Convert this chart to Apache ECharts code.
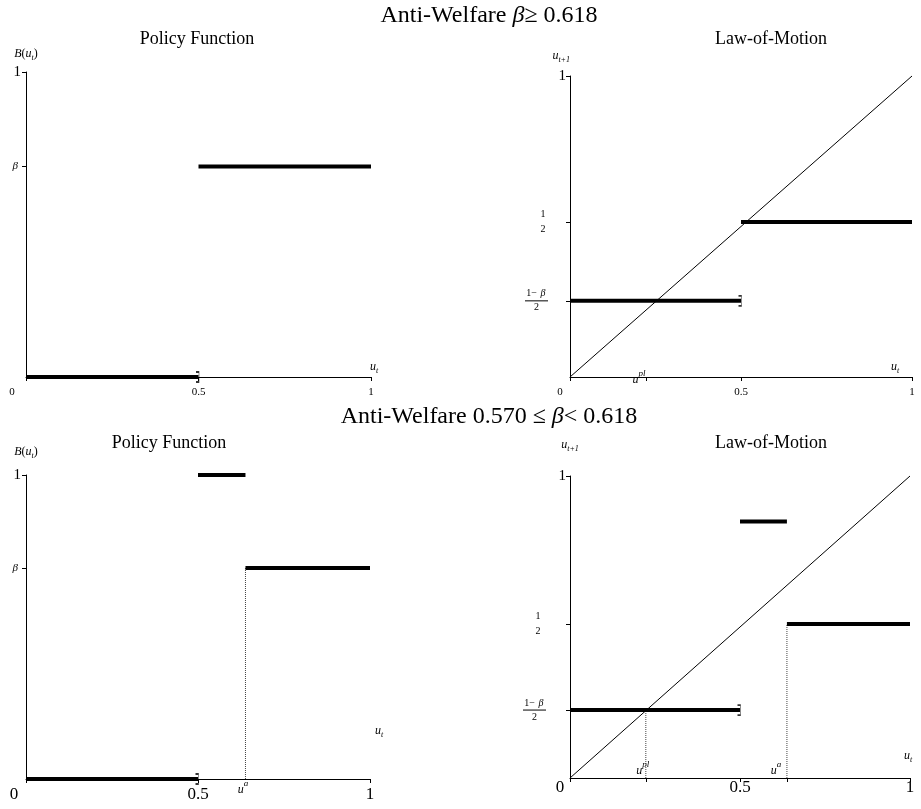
<!DOCTYPE html>
<html>
<head>
<meta charset="utf-8">
<script src="https://cdn.jsdelivr.net/npm/echarts@6/dist/echarts.min.js"></script>
<style>
html,body{margin:0;padding:0;background:#ffffff;}
#chart{width:921px;height:809px;}
</style>
</head>
<body>
<div id="chart"></div>
<script>
// ---------------- data ----------------
const rowTitles = ['Anti-Welfare {bi|β}≥ 0.618', 'Anti-Welfare 0.570 ≤ {bi|β}< 0.618'];
const panelTitles = ['Policy Function', 'Law-of-Motion', 'Policy Function', 'Law-of-Motion'];

const xTickValues = [0, 0.5, 1];
const xTickLabelsTL = ['{z14|0}', '0.5', '1'];
const xTickLabelsTR = ['{z10|0}', '0.5', '1'];
const xTickLabelsBL = ['{z12|0}', '0.5', '1'];
const xTickLabelsBR = ['{z10|0}', '0.5', '1'];

// Top-left: policy function (β >= 0.618)
const tlSegLow  = [[0, 0], [0.5, 0]];
const tlSegHigh = [[0.5, 0.69], [1, 0.69]];
const tlBracket = [[0.5, 0]];
const tlYTicks  = [0.69, 1];
const tlYLabels = ['{b|β}', '{one|1}'];
const tlXTicks  = [0, 0.5, 1];

// Top-right: law of motion (β >= 0.618)
const trDiagonal = [[0, 0], [1, 1]];
const trSegLow   = [[0, 0.253], [0.5, 0.253]];
const trSegHigh  = [[0.5, 0.515], [1, 0.515]];
const trBracket  = [[0.5, 0.253]];
const trYTicks   = [0.253, 0.515, 1];
const trYLabels  = ['{fn|1−}{fb|β}{s18|}\n{bar|}{s18|}\n{fd|2}{s18|}', '{hn|1}{s18|}\n{hd|2}{s18|}', '{one|1}'];
const trXTicks   = [0, 0.222, 0.5, 1];
const trXMarks   = [0.222];
const trXMarkLabels = ['{u|u}{sup14|pl}'];

// Bottom-left: policy function (0.570 <= β < 0.618)
const blSegLow   = [[0, 0], [0.5, 0]];
const blSegTop   = [[0.5, 1], [0.638, 1]];
const blSegMid   = [[0.638, 0.694], [1, 0.694]];
const blGuide    = [[0.638, 0], [0.638, 0.694]];
const blBracket  = [[0.5, 0]];
const blYTicks   = [0.694, 1];
const blYLabels  = ['{b|β}', '{one|1}'];
const blXTicks   = [0, 0.5, 1];
const blXMarks   = [0.638];
const blXMarkLabels = ['{u|u}{sup5|a}'];

// Bottom-right: law of motion (0.570 <= β < 0.618)
const brDiagonal = [[0, 0], [1, 1]];
const brSegLow   = [[0, 0.225], [0.5, 0.225]];
const brSegSpike = [[0.5, 0.849], [0.638, 0.849]];
const brSegHigh  = [[0.638, 0.51], [1, 0.51]];
const brGuidePl  = [[0.223, 0], [0.223, 0.225]];
const brGuideA   = [[0.638, 0], [0.638, 0.51]];
const brBracket  = [[0.5, 0.225]];
const brYTicks   = [0.225, 0.51, 1];
const brYLabels  = ['{fn|1−}{fb|β}{s20|}\n{bar|}{s20|}\n{fd|2}{s20|}', '{hn|1}{s23|}\n{hd|2}{s23|}', '{one|1}'];
const brXTicks   = [0, 0.223, 0.5, 0.638, 1];
const brXMarks   = [0.223, 0.638];
const brXMarkLabels = ['{u|u}{sup6|pl}', '{u|u}{sup22|a}'];

// ---------------- styling ----------------
const F = 'Liberation Serif';
const RICH = {
  one:  {fontFamily: F, fontSize: 15},
  b:    {fontFamily: F, fontStyle: 'italic', fontSize: 11, padding: [0, 3, 0, 0]},
  fn:   {fontFamily: F, fontSize: 10, lineHeight: 10, width: 13, align: 'right'},
  fb:   {fontFamily: F, fontSize: 10, fontStyle: 'italic', lineHeight: 10, width: 10, align: 'left'},
  bar:  {width: 23, height: 1, lineHeight: 4, fontSize: 1, backgroundColor: '#000'},
  fd:   {fontFamily: F, fontSize: 10, lineHeight: 10, width: 23, align: 'center'},
  hn:   {fontFamily: F, fontSize: 10, lineHeight: 15, width: 10, align: 'center'},
  hd:   {fontFamily: F, fontSize: 10, lineHeight: 15, width: 10, align: 'center'},
  s18:  {width: 18, fontSize: 1, lineHeight: 1},
  s20:  {width: 20, fontSize: 1, lineHeight: 1},
  s23:  {width: 23, fontSize: 1, lineHeight: 1},
  z14:  {padding: [0, 28, 0, 0]}, z12: {padding: [0, 24, 0, 0]}, z10: {padding: [0, 20, 0, 0]},
  u:    {fontFamily: F, fontStyle: 'italic', fontSize: 12, lineHeight: 17, verticalAlign: 'bottom'},
  sup5: {fontFamily: F, fontStyle: 'italic', fontSize: 9, verticalAlign: 'top', padding: [0, 5, 0, 0]},
  sup6: {fontFamily: F, fontStyle: 'italic', fontSize: 9, verticalAlign: 'top', padding: [0, 6, 0, 0]},
  sup14:{fontFamily: F, fontStyle: 'italic', fontSize: 9, verticalAlign: 'top', padding: [0, 14, 0, 0]},
  sup22:{fontFamily: F, fontStyle: 'italic', fontSize: 9, verticalAlign: 'top', padding: [0, 22, 0, 0]},
  nu:   {fontFamily: F, fontStyle: 'italic', fontSize: 12, lineHeight: 14, verticalAlign: 'top'},
  np:   {fontFamily: F, fontSize: 12, lineHeight: 14, verticalAlign: 'top'},
  nsub: {fontFamily: F, fontStyle: 'italic', fontSize: 8, verticalAlign: 'bottom'}
};
const NAME_UT = '{nu|u}{nsub|t}';
const NAME_B = '{nu|B}{np|(}{nu|u}{nsub|t}{np|)}';
const NAME_UT1 = '{nu|u}{nsub|t+1}';

function pick(vals, labels, v) {
  let best = 0, d = Infinity;
  vals.forEach((x, i) => { const dd = Math.abs(x - v); if (dd < d) { d = dd; best = i; } });
  return labels[best];
}

function mainX(gi, ticks, labels, fs, margin, nameGap, namePadBottom) {
  return {
    type: 'value', gridIndex: gi, min: 0, max: 1, position: 'bottom',
    axisLine: {show: true, onZero: false, lineStyle: {color: '#000', width: 1}},
    axisTick: {show: true, customValues: ticks, length: 4, lineStyle: {color: '#000', width: 1}},
    axisLabel: {show: true, customValues: xTickValues, formatter: v => pick(xTickValues, labels, v),
      fontFamily: F, fontSize: fs, color: '#000', margin: margin, rich: RICH,
      showMinLabel: true, showMaxLabel: true},
    splitLine: {show: false},
    name: NAME_UT, nameLocation: 'end', nameGap: nameGap, nameMoveOverlap: false,
    nameTextStyle: {align: 'center', verticalAlign: 'bottom', padding: [0, 0, namePadBottom, 0],
      rich: RICH, fontFamily: F, color: '#000'}
  };
}
function labelX(gi, vals, labels, inside, margin) {
  return {
    type: 'value', gridIndex: gi, min: 0, max: 1, position: 'bottom',
    axisLine: {show: false, onZero: false}, axisTick: {show: false}, splitLine: {show: false},
    axisLabel: {show: true, customValues: vals, formatter: v => pick(vals, labels, v),
      inside: inside, margin: margin, fontFamily: F, color: '#000', rich: RICH,
      showMinLabel: true, showMaxLabel: true}
  };
}
function mainY(gi, vals, labels, margin, name, nameGap, nameAlign) {
  return {
    type: 'value', gridIndex: gi, min: 0, max: 1,
    axisLine: {show: true, onZero: false, lineStyle: {color: '#000', width: 1}},
    axisTick: {show: true, customValues: vals, length: 4, lineStyle: {color: '#000', width: 1}},
    axisLabel: {show: true, customValues: vals, formatter: v => pick(vals, labels, v),
      margin: margin, fontFamily: F, fontSize: 15, color: '#000', rich: RICH,
      showMinLabel: true, showMaxLabel: true},
    splitLine: {show: false},
    name: name, nameLocation: 'end', nameGap: nameGap, nameMoveOverlap: false,
    nameTextStyle: {align: nameAlign, verticalAlign: 'bottom', rich: RICH, fontFamily: F, color: '#000'}
  };
}
function seg(data, xi, yi, width, type, color) {
  return {type: 'line', data: data, xAxisIndex: xi, yAxisIndex: yi, symbol: 'none',
    silent: true, animation: false, clip: false,
    lineStyle: {color: color || '#000', width: width, type: type || 'solid', cap: 'butt'},
    z: width > 2 ? 4 : 3};
}
function bracket(data, xi, yi) {
  return {type: 'scatter', data: data, xAxisIndex: xi, yAxisIndex: yi,
    symbol: 'path://M0,0L3,0L3,10L0,10', symbolSize: [3, 10], symbolOffset: [-1, 0],
    itemStyle: {color: 'rgba(0,0,0,0)', borderColor: '#000', borderWidth: 1},
    silent: true, animation: false, z: 5};
}
function title(text, x, y, size) {
  return {type: 'text', x: x, y: y, silent: true,
    style: {text: text, fontFamily: F, fontSize: size, fill: '#000', align: 'center', verticalAlign: 'middle',
      rich: {bi: {fontFamily: F, fontStyle: 'italic', fontSize: size, fill: '#000'}}}};
}

const DOT = [1, 1];
const option = {
  backgroundColor: '#ffffff',
  animation: false,
  grid: [
    {left: 26,  top: 72,  width: 345, height: 305, containLabel: false, outerBoundsMode: 'none'},
    {left: 570, top: 76,  width: 342, height: 301, containLabel: false, outerBoundsMode: 'none'},
    {left: 26,  top: 475, width: 344, height: 304, containLabel: false, outerBoundsMode: 'none'},
    {left: 570, top: 476, width: 340, height: 302, containLabel: false, outerBoundsMode: 'none'}
  ],
  xAxis: [
    mainX(0, tlXTicks, xTickLabelsTL, 11, 10, 3, 2),
    mainX(1, trXTicks, xTickLabelsTR, 11, 10, -17, 2),
    mainX(2, blXTicks, xTickLabelsBL, 17, 7, 9, 40),
    mainX(3, brXTicks, xTickLabelsBR, 17, 1, -2, 14),
    labelX(1, trXMarks, trXMarkLabels, false, -8),
    labelX(2, blXMarks, blXMarkLabels, false, 0),
    labelX(3, brXMarks, brXMarkLabels, true, 1)
  ],
  yAxis: [
    mainY(0, tlYTicks, tlYLabels, 5, NAME_B, 10, 'center'),
    mainY(1, trYTicks, trYLabels, 4, NAME_UT1, 12, 'right'),
    mainY(2, blYTicks, blYLabels, 5, NAME_B, 15, 'center'),
    mainY(3, brYTicks, brYLabels, 4, NAME_UT1, 23, 'center')
  ],
  series: [
    seg(tlSegLow, 0, 0, 4), seg(tlSegHigh, 0, 0, 4), bracket(tlBracket, 0, 0),
    seg(trDiagonal, 1, 1, 1), seg(trSegLow, 1, 1, 4), seg(trSegHigh, 1, 1, 4), bracket(trBracket, 1, 1),
    seg(blSegLow, 2, 2, 4), seg(blSegTop, 2, 2, 4), seg(blSegMid, 2, 2, 4),
    seg(blGuide, 2, 2, 1, DOT, '#444'), bracket(blBracket, 2, 2),
    seg(brDiagonal, 3, 3, 1), seg(brSegLow, 3, 3, 4), seg(brSegSpike, 3, 3, 4), seg(brSegHigh, 3, 3, 4),
    seg(brGuidePl, 3, 3, 1, DOT, '#444'), seg(brGuideA, 3, 3, 1, DOT, '#444'), bracket(brBracket, 3, 3)
  ],
  graphic: [
    title(rowTitles[0], 489, 16, 24),
    title(rowTitles[1], 489, 417, 24),
    title(panelTitles[0], 197, 39, 18),
    title(panelTitles[1], 771, 39, 18),
    title(panelTitles[2], 169, 443, 18),
    title(panelTitles[3], 771, 443, 18)
  ]
};
const chart = echarts.init(document.getElementById('chart'), null, {renderer: 'canvas'});
chart.setOption(option);
</script>
</body>
</html>
